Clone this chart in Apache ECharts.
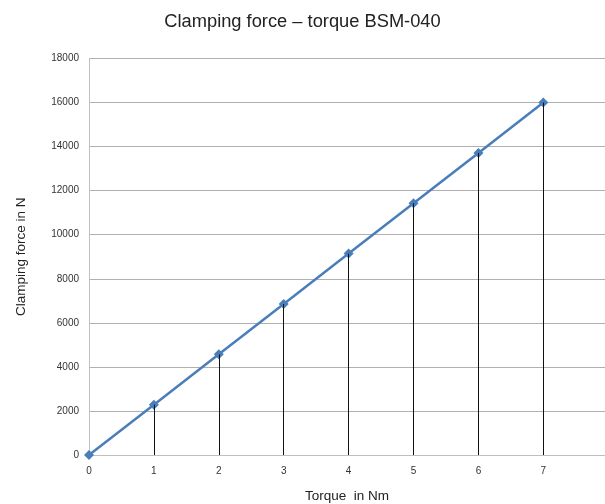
<!DOCTYPE html>
<html><head><meta charset="utf-8">
<script src="https://cdn.jsdelivr.net/npm/echarts@6/dist/echarts.min.js"></script>
<style>html,body{margin:0;padding:0;background:#fff}#c{width:605px;height:504px}</style>
</head><body><div id="c"></div>
<script>
const torque = [0, 1, 2, 3, 4, 5, 6, 7];
const force = [0, 2286, 4571, 6857, 9143, 11429, 13714, 16000];
const xTicks = [0, 1, 2, 3, 4, 5, 6, 7];
const titleText = 'Clamping force \u2013 torque BSM-040';
const xName = 'Torque  in Nm';
const yName = 'Clamping force in N';

const pts = torque.map((t, i) => [t, force[i]]);
const drops = torque.map((t, i) => [{coord: [t, 0]}, {coord: [t, force[i]]}]);
const font = 'Liberation Sans, Arial, sans-serif';

const chart = echarts.init(document.getElementById('c'), null, {renderer: 'canvas'});
chart.setOption({
  animation: false,
  textStyle: {fontFamily: font},
  title: {text: titleText, left: 'center', top: 8,
    textStyle: {fontFamily: font, fontSize: 18.3, fontWeight: 'normal', color: '#222'}},
  grid: {left: 89, right: 0, top: 58.5, bottom: 49, containLabel: false, outerBoundsMode: 'none'},
  xAxis: {type: 'value', min: 0, max: 7.95, interval: 1,
    name: xName, nameLocation: 'middle', nameGap: 34,
    nameTextStyle: {fontSize: 13.5, color: '#222', fontFamily: font},
    axisLine: {show: true, lineStyle: {color: '#bfbfbf', width: 1}},
    axisTick: {show: false},
    splitLine: {show: false},
    axisLabel: {fontSize: 10, color: '#333', margin: 11, showMaxLabel: false,
      formatter: v => xTicks.includes(v) ? String(v) : ''}},
  yAxis: {type: 'value', min: 0, max: 18000, interval: 2000,
    name: yName, nameLocation: 'middle', nameGap: 61, nameRotate: 90,
    nameTextStyle: {fontSize: 13.5, color: '#222', fontFamily: font},
    axisLine: {show: true, lineStyle: {color: '#bfbfbf', width: 1}},
    axisTick: {show: false},
    splitLine: {lineStyle: {color: '#b0b0b0', width: 1}},
    axisLabel: {fontSize: 10, color: '#333', margin: 10, formatter: v => String(v)}},
  series: [{
    type: 'line', data: pts,
    lineStyle: {color: '#4a7ebb', width: 2.5},
    itemStyle: {color: '#4a7ebb'},
    symbol: 'diamond', symbolSize: 10, showAllSymbol: true,
    markLine: {silent: true, symbol: 'none', label: {show: false},
      lineStyle: {color: '#111', width: 1, type: 'solid'},
      data: drops},
    z: 3
  }]
});
</script></body></html>
